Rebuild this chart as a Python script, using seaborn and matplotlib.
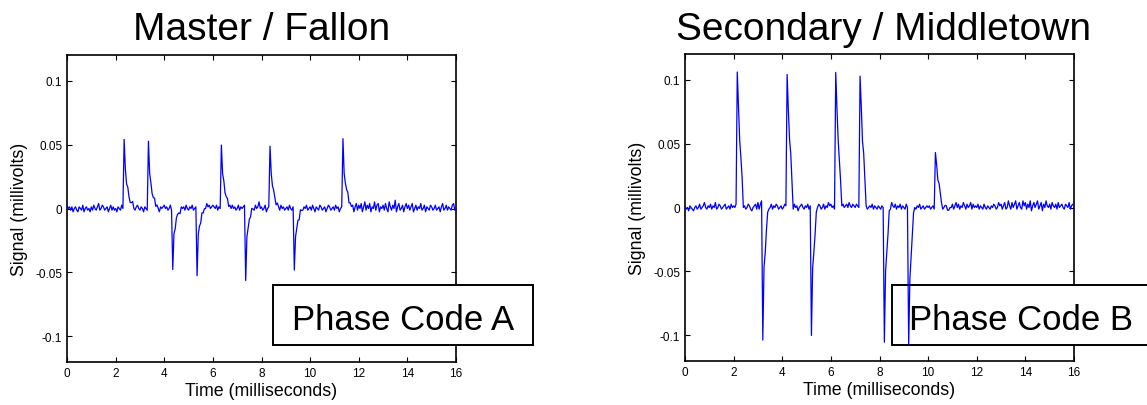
import numpy as np
import pandas as pd
import matplotlib
matplotlib.use("Agg")
import matplotlib.pyplot as plt
from matplotlib.patches import Rectangle
import seaborn as sns

# ---------------- data ----------------
dt = 0.05  # ms between samples
titles = ["Master / Fallon", "Secondary / Middletown"]
codes = ["Phase Code A", "Phase Code B"]
x_ticks = [0, 2, 4, 6, 8, 10, 12, 14, 16]
y_ticks = [-0.1, -0.05, 0, 0.05, 0.1]
y_tick_labels = ["-0.1", "-0.05", "0", "0.05", "0.1"]

# baseline noise, units of 0.0013 mV, one sample every 0.05 ms
fallon_noise = [
    2, 0, 1, -1, 1, -2, 0, 1, -1, -2, 1, 0, -1, 2, -2, 0, 1, -1, 0, -2,
    1, -1, 2, 0, -1, 1, 3, -1, 0, 2, 1, -1, 0, 1, -2, 0, 2, -1, 1, -1,
    0, -2, 1, 0, -1, 2, 0, 0, 1, -1, 2, 0, -1, 1, 3, 0, -1, 1, 2, 0,
    -1, 1, 0, -2, 1, 0, -1, 2, 0, 1, -1, 0, 2, -1, 1, 0, -2, 1, 0, 1,
    2, 0, 1, -1, 0, 2, -1, 1, 0, -1, 2, 1, 0, -2, 1, 0, 1, -1, 2, 0,
    -1, 1, 0, 2, -1, 0, 1, -2, 0, 1, -1, 2, 0, 1, 0, 3, 1, 2, 0, 1,
    2, 1, 0, 2, -1, 1, 0, 2, 1, 3, 0, 1, 2, -1, 1, 0, 2, 0, 1, -1,
    0, 2, -1, 1, 0, 1, 2, -1, 0, 1, 2, 0, 3, 1, -1, 2, 0, 1, 4, 0,
    1, -1, 0, 2, -2, 0, 1, -1, 0, -1, 1, 0, -2, 1, 0, -1, 2, 0, 1, -1,
    0, 1, -1, 2, 0, -1, 1, 3, -1, 0, 1, -2, 2, 0, -1, 1, 0, 2, -1, 0,
    1, -1, 2, 0, -2, 1, 0, -1, 2, 1, -1, 0, 1, -2, 0, 2, 1, -1, 0, 1,
    -1, 2, 0, 1, -2, 0, 1, 2, -1, 0, 1, 3, -1, 1, 0, 2, -2, 1, 3, -1,
    2, 0, 3, -2, 1, 4, -1, 2, 0, 3, -2, 1, 0, 4, -1, 2, 3, -2, 1, 0,
    2, -1, 3, 0, -2, 4, 1, -1, 2, 0, 5, -2, 1, 3, -1, 0, 2, -2, 1, 3,
    0, 2, -1, 1, 3, -2, 0, 2, -1, 1, 0, 3, -1, 0, 2, -2, 1, 0, -1, 2,
    1, -1, 0, 2, -1, 0, 1, -2, 1, 3, -1, 0, 2, -1, 1, 0, -1, 2, 3, -1,
    0,
]
middletown_noise = [
    1, -1, 0, -2, 1, 0, -1, -2, 0, 1, -1, 0, 2, -1, 0, 1, 3, 0, -1, 1,
    0, 2, -1, 1, 0, 3, -1, 0, 2, 1, -1, 0, 1, 2, -1, 0, 1, -1, 2, 0,
    1, 0, 2, 3, 2, 1, 0, 2, 0, 1, -1, 0, 2, 1, -1, -2, 0, 1, 2, -1,
    3, -1, 2, 4, -2, 3, 0, 2, 1, -1, 0, 2, -1, 1, 0, 2, 1, -1, 0, 1,
    -1, 0, 2, 1, 0, -1, 1, 2, 0, -1, 2, 0, 1, -2, 0, 1, 2, 0, -1, 1,
    0, 2, -1, 1, 0, 2, 0, -1, 1, 0, 2, 1, -1, 0, 2, -1, 1, 0, 3, 1,
    2, 0, 1, -1, 2, 0, 1, -2, 0, 1, 2, 0, 1, 2, 0, 3, 1, 0, 2, 1,
    0, 2, 1, 0, -1, 1, 0, 2, 0, 1, -1, 0, 1, 0, 2, -1, 1, 0, -1, 1,
    0, -1, 1, 0, -1, 2, 1, 0, 2, -1, 3, 1, 0, 2, -1, 1, 0, 2, -1, 1,
    0, -1, 2, 0, 1, -1, 0, 2, 1, 0, -1, 1, 0, 2, -1, 0, 1, -1, 0, 1,
    0, 1, -1, 0, 1, -1, 0, 1, 0, 2, 0, -1, -1, 0, 2, 1, 0, 3, 1, 0,
    2, -1, 1, 3, 0, 2, -1, 1, 0, 3, 1, -1, 2, 0, 1, 3, -1, 2, 0, 1,
    0, 2, -1, 1, 0, -1, 2, 0, -1, 1, 0, -1, 1, 0, 2, 1, -1, 0, 3, 1,
    2, -1, 1, 3, -1, 0, 4, 1, -1, 3, 0, 2, 4, -1, 1, 3, 0, -1, 4, 1,
    3, -1, 2, 0, 4, -2, 1, 3, 0, 2, 4, -1, 1, 3, -2, 2, 0, 4, 1, 0,
    2, -1, 3, 1, 0, 2, -1, 3, 0, 1, 2, 0, -1, 2, 1, 0, 3, -1, 1, 2,
    1,
]
noise_unit = 0.0013

# spike events: onset time (ms) and peak value (mV)
fallon_pos_times = [2.35, 3.35, 6.35, 8.35, 11.35]
fallon_pos_peaks = [0.054, 0.050, 0.047, 0.050, 0.052]
fallon_neg_times = [4.35, 5.35, 7.35, 9.35]
fallon_neg_peaks = [-0.049, -0.050, -0.055, -0.052]

middletown_pos_times = [2.15, 4.2, 6.2, 7.2]
middletown_pos_peaks = [0.102, 0.104, 0.103, 0.104]
middletown_small_times = [10.3]
middletown_small_peaks = [0.043]
middletown_neg_times = [3.2, 5.2, 8.2, 9.2]
middletown_neg_peaks = [-0.101, -0.100, -0.104, -0.109]

# spike shapes (fraction of peak, one value per sample after onset)
fallon_pos_shape = [1.0, 0.55, 0.38, 0.26, 0.17, 0.11, 0.06, 0.03]
fallon_neg_shape = [1.0, 0.4, 0.3, 0.2, 0.12, 0.07, 0.03]
middletown_pos_shape = [1.0, 0.75, 0.5, 0.38, 0.2, 0.0]
middletown_small_shape = [1.0, 0.75, 0.5, 0.38, 0.27, 0.12, 0.0, 0.0, -0.02, 0.0, -0.05, -0.14, -0.03]
middletown_neg_shape = [1.0, 0.5, 0.35, 0.2, 0.05]


def build(noise, events):
    y = np.array(noise, dtype=float) * noise_unit
    for times, peaks, shape in events:
        for t0, p in zip(times, peaks):
            i0 = int(round(t0 / dt))
            for k, s in enumerate(shape):
                if i0 + k < len(y):
                    y[i0 + k] += p * s
    t = np.arange(len(y)) * dt
    return pd.DataFrame({"time": t, "signal": y})


fallon = build(fallon_noise, [(fallon_pos_times, fallon_pos_peaks, fallon_pos_shape),
                              (fallon_neg_times, fallon_neg_peaks, fallon_neg_shape)])
middletown = build(middletown_noise, [(middletown_pos_times, middletown_pos_peaks, middletown_pos_shape),
                                      (middletown_small_times, middletown_small_peaks, middletown_small_shape),
                                      (middletown_neg_times, middletown_neg_peaks, middletown_neg_shape)])

# ---------------- drawing ----------------
sns.set_style("ticks")
plt.rcParams["font.family"] = ["Liberation Sans", "DejaVu Sans"]
plt.rcParams["axes.unicode_minus"] = False
plt.rcParams["text.color"] = "black"
plt.rcParams["axes.labelcolor"] = "black"
plt.rcParams["xtick.color"] = "black"
plt.rcParams["ytick.color"] = "black"

W, H = 1147, 406
fig = plt.figure(figsize=(W / 100, H / 100), dpi=100)
fig.patch.set_facecolor("white")

def fx(px):
    return px / W

def fy(py):
    return 1 - py / H

ax_specs = [
    (67, 56, 456, 363, fallon, 262, (273.3, 533.3), 403.3),
    (685, 55, 1074, 362, middletown, 884, (891.7, 1152), 1020.8),
]

for i, (l, t, r, b, df, tcx, (bx0, bx1), txc) in enumerate(ax_specs):
    ax = fig.add_axes([fx(l), fy(b), (r - l) / W, (b - t) / H])
    sns.lineplot(data=df, x="time", y="signal", ax=ax, color="#0000FF",
                 linewidth=0.9, estimator=None, zorder=3)
    ax.set_xlim(0, 16)
    ax.set_ylim(-0.12, 0.12)
    ax.set_xticks(x_ticks)
    ax.set_xticklabels([str(v) for v in x_ticks])
    ax.set_yticks(y_ticks)
    ax.set_yticklabels(y_tick_labels)
    ax.tick_params(direction="in", length=3.5, width=0.8, top=True, right=True,
                   labelsize=8.5, pad=3.5, colors="black")
    for s in ax.spines.values():
        s.set_visible(True)
        s.set_linewidth(1.2)
        s.set_color("black")
    ax.set_xlabel("Time (milliseconds)", fontsize=12.8, labelpad=2, color="black")
    ax.set_ylabel("Signal (millivolts)", fontsize=12.8, labelpad=5, color="black")
    ax.set_facecolor("white")

    fig.text(fx(tcx), fy(40), titles[i], ha="center", va="baseline", fontsize=28,
             color="black")

    rect = Rectangle((fx(bx0), fy(346)), (bx1 - bx0) / W, 60 / H,
                     transform=fig.transFigure, facecolor="white",
                     edgecolor="black", linewidth=1.4, zorder=2.6, clip_on=False)
    ax.add_artist(rect)
    ax.text(fx(txc), fy(330), codes[i], ha="center", va="baseline", fontsize=25,
            color="black", transform=fig.transFigure, zorder=2.7, clip_on=False)

fig.savefig("out.png", dpi=100, facecolor="white")
